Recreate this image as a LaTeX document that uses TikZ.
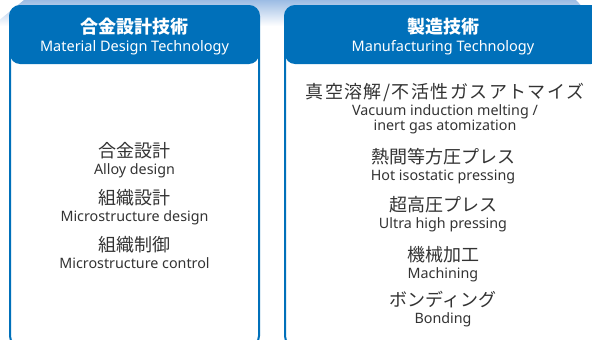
\documentclass[tikz,border=0pt]{standalone}
\usepackage{fontspec}
\setmainfont{Noto Sans}
\newfontfamily\jpfont{Noto Sans CJK JP}
\definecolor{brand}{HTML}{0070BA}
\definecolor{haze}{HTML}{9CBCE4}
\definecolor{ink}{HTML}{333333}
\usetikzlibrary{positioning}
\tikzset{
  panel/.style={draw=brand,line width=2pt,rounded corners=10pt,fill=white,inner sep=0pt,
                path picture={\fill[brand] (path picture bounding box.north west)
                  rectangle ([yshift=-58pt]path picture bounding box.north east);}},
  headjp/.style={text=white,inner sep=0pt,font=\jpfont\bfseries\fontsize{18}{20}\selectfont},
  headen/.style={text=white,inner sep=0pt,font=\fontsize{14.5}{17}\selectfont},
  itemjp/.style={text=ink,inner sep=0pt,text height=15pt,text depth=3pt,
                 font=\jpfont\fontsize{18}{20}\selectfont},
  itemen/.style={text=ink,inner sep=0pt,text height=10pt,text depth=3.5pt,
                 font=\fontsize{14.3}{17}\selectfont}
}
\begin{document}
\begin{tikzpicture}[x=1pt,y=-1pt]
      \useasboundingbox (0,0) rectangle (592,340);
      \clip (0,0) rectangle (592,340);
      \shade[top color=haze,bottom color=white] (24,0) -- (576,0) -- (600,26) -- (-8,26) -- cycle;
      % material design panel
      \node[panel,minimum width=249pt,minimum height=340pt] (matpanel) at (134.5,176) {};
      \node[headjp] (mattitle) at (134.5,27) {合金設計技術};
      \node[headen] (matsub) at (134.5,48) {Material Design Technology};
      \node[itemjp] (alloy) at (134.5,151) {合金設計};
      \node[itemen,below=4pt of alloy] (alloyen) {Alloy design};
      \node[itemjp] (micro) at (134.5,198) {組織設計};
      \node[itemen,below=4pt of micro] (microen) {Microstructure design};
      \node[itemjp] (control) at (134.5,245) {組織制御};
      \node[itemen,below=4pt of control] (controlen) {Microstructure control};
      % manufacturing panel
      \node[panel,minimum width=316pt,minimum height=340pt] (mfgpanel) at (443,176) {};
      \node[headjp] (mfgtitle) at (443,27) {製造技術};
      \node[headen] (mfgsub) at (443,48) {Manufacturing Technology};
      \node[itemjp] (vim) at (445,92) {\addfontfeature{LetterSpace=8}真空溶解/不活性ガスアトマイズ};
      \node[itemen,below=4pt of vim] (vimen) {Vacuum induction melting /};
      \node[itemen,below=1.5pt of vimen] (atomen) {inert gas atomization};
      \node[itemjp] (hip) at (443,157) {熱間等方圧プレス};
      \node[itemen,below=4pt of hip] (hipen) {Hot isostatic pressing};
      \node[itemjp] (uhp) at (443,205) {超高圧プレス};
      \node[itemen,below=4pt of uhp] (uhpen) {Ultra high pressing};
      \node[itemjp] (mach) at (443,255) {機械加工};
      \node[itemen,below=4pt of mach] (machen) {Machining};
      \node[itemjp] (bond) at (443,300) {ボンディング};
      \node[itemen,below=4pt of bond] (bonden) {Bonding};
    \end{tikzpicture}
\end{document}
